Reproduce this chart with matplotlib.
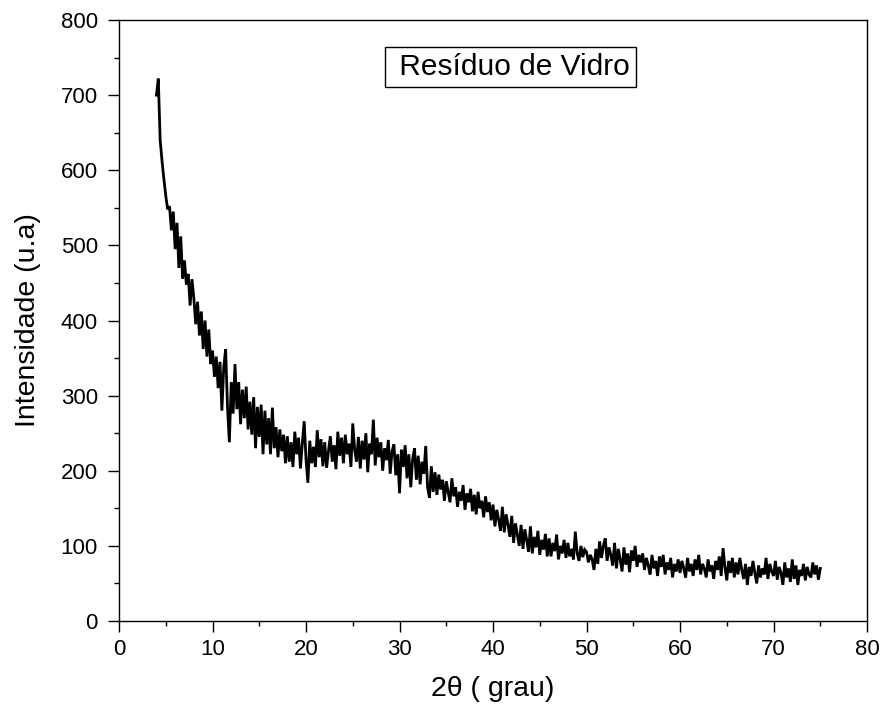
import matplotlib
matplotlib.use("Agg")
import matplotlib.pyplot as plt
import numpy as np
from matplotlib.ticker import MultipleLocator

plt.rcParams['font.family'] = ['Liberation Sans', 'DejaVu Sans']

# diffractogram, 2theta from 4 to 75 deg in 0.2 deg steps
two_theta_start = 4.0
two_theta_end = 75.0
intensity = [
    700, 722, 640, 612, 588, 566, 548, 552, 520, 545,   # 4-6
    495, 530, 470, 512, 456, 480, 448, 462, 420, 455,   # 6-8
    430, 395, 425, 380, 412, 362, 400, 352, 388, 342,   # 8-10
    360, 325, 352, 310, 345, 280, 338, 362, 285, 238,   # 10-12
    318, 276, 342, 282, 318, 262, 308, 270, 312, 255,   # 12-14
    292, 248, 298, 230, 285, 245, 288, 222, 280, 235,   # 14-16
    270, 222, 284, 230, 258, 218, 255, 226, 248, 210,   # 16-18
    246, 212, 238, 205, 252, 222, 244, 203, 236, 266,   # 18-20
    215, 184, 240, 210, 232, 205, 254, 218, 242, 206,   # 20-22
    238, 204, 226, 246, 212, 234, 202, 252, 220, 244,   # 22-24
    210, 248, 222, 236, 205, 263, 228, 212, 245, 203,   # 24-26
    240, 215, 250, 198, 236, 222, 268, 207, 244, 218,   # 26-28
    238, 200, 230, 214, 241, 196, 226, 235, 194, 222,   # 28-30
    170, 228, 205, 234, 190, 222, 178, 215, 230, 188,   # 30-32
    220, 182, 212, 196, 233, 178, 164, 206, 172, 198,   # 32-34
    168, 195, 175, 188, 160, 186, 172, 158, 190, 166,   # 34-36
    178, 152, 172, 160, 181, 148, 170, 158, 176, 146,   # 36-38
    168, 142, 172, 150, 160, 138, 166, 145, 158, 134,   # 38-40
    155, 126, 148, 135, 120, 152, 118, 142, 128, 112,   # 40-42
    140, 104, 130, 115, 100, 128, 96, 122, 108, 92,     # 42-44
    126, 90, 112, 98, 120, 88, 108, 95, 116, 86,        # 44-46
    110, 86, 104, 93, 115, 82, 100, 90, 108, 84,        # 46-48
    104, 86, 96, 82, 119, 90, 80, 100, 85, 95,          # 48-50
    92, 78, 88, 82, 68, 96, 76, 106, 84, 100,           # 50-52
    110, 80, 98, 88, 74, 104, 70, 96, 82, 66,           # 52-54
    98, 75, 90, 65, 94, 80, 100, 72, 88, 78,            # 54-56
    90, 68, 84, 74, 62, 88, 70, 80, 60, 86,             # 56-58
    72, 88, 62, 78, 68, 84, 58, 76, 66, 82,             # 58-60
    64, 80, 70, 58, 84, 66, 76, 60, 82, 68,             # 60-62
    88, 62, 76, 70, 58, 82, 66, 74, 56, 80,             # 62-64
    68, 86, 60, 97, 72, 54, 80, 64, 84, 58,             # 64-66
    78, 62, 84, 68, 56, 76, 48, 72, 60, 80,             # 66-68
    64, 50, 74, 58, 70, 62, 84, 56, 76, 66,             # 68-70
    60, 80, 55, 72, 64, 48, 78, 58, 70, 52,             # 70-72
    82, 56, 74, 48, 68, 60, 76, 54, 72, 62,             # 72-74
    58, 78, 62, 74, 55, 70,                             # 74-75
]
two_theta = np.linspace(two_theta_start, two_theta_end, len(intensity))

sample_name = " Resíduo de Vidro"
x_label = "2θ ( grau)"
y_label = "Intensidade (u.a)"

fig = plt.figure(figsize=(8.85, 7.2), dpi=100)
ax = fig.add_axes([0.1345, 0.1375, 0.8452, 0.8347])

ax.plot(two_theta, intensity, color='black', lw=2.0, solid_joinstyle='miter')

ax.set_xlim(0, 80)
ax.set_ylim(0, 800)
ax.xaxis.set_major_locator(MultipleLocator(10))
ax.xaxis.set_minor_locator(MultipleLocator(5))
ax.yaxis.set_major_locator(MultipleLocator(100))
ax.yaxis.set_minor_locator(MultipleLocator(50))

ax.tick_params(which='both', direction='out', width=1.0, top=False, right=False)
ax.tick_params(which='major', length=7.7)
ax.tick_params(which='minor', length=3.6)
ax.tick_params(axis='x', which='major', labelsize=16, pad=5)
ax.tick_params(axis='y', which='major', labelsize=16, pad=7.5)
for s in ax.spines.values():
    s.set_linewidth(1.0)

ax.set_xlabel(x_label, fontsize=20.5, labelpad=12)
ax.set_ylabel(y_label, fontsize=20.5, labelpad=14)

ax.text(0.5234, 0.9218, sample_name, transform=ax.transAxes, fontsize=21.5,
        ha='center', va='center',
        bbox=dict(boxstyle='square,pad=0.2', fc='white', ec='black', lw=1.0))

fig.savefig('out.png', dpi=100)
